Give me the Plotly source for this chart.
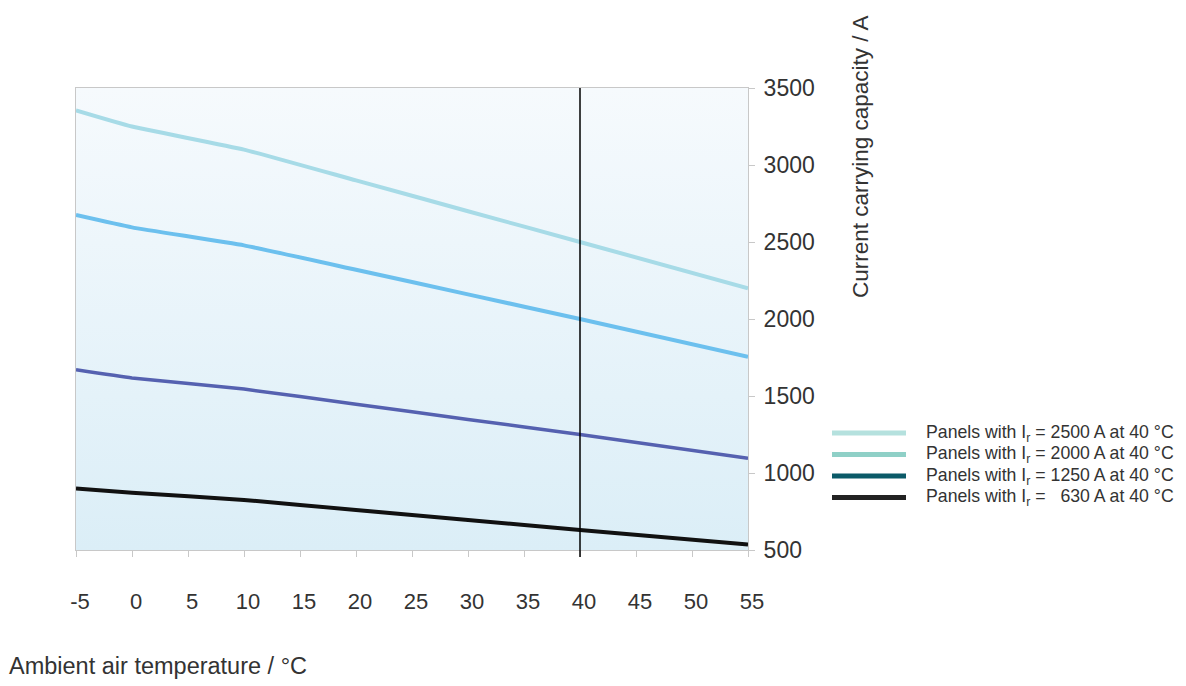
import plotly.graph_objects as go

# ambient temperature (deg C) and current carrying capacity (A)
temps = [-5, 0, 10, 20, 30, 40, 55]
cap_2500 = [3355, 3250, 3100, 2900, 2700, 2500, 2200]
cap_2000 = [2675, 2595, 2478, 2320, 2160, 2000, 1755]
cap_1250 = [1670, 1617, 1545, 1447, 1348, 1250, 1095]
cap_630 = [900, 872, 825, 760, 695, 630, 535]

series = [cap_2500, cap_2000, cap_1250, cap_630]
line_colors = ["#a7dbe7", "#6cc0ee", "#5561b0", "#111111"]
line_widths = [4, 4, 3.5, 4]

legend_labels = [
    "Panels with I<sub>r</sub> = 2500 A at 40 °C",
    "Panels with I<sub>r</sub> = 2000 A at 40 °C",
    "Panels with I<sub>r</sub> = 1250 A at 40 °C",
    "Panels with I<sub>r</sub> = \u00a0\u00a0630 A at 40 °C",
]
legend_colors = ["#b5e1de", "#8fd0c7", "#0b5a68", "#222222"]

x_ticks = list(range(-5, 60, 5))
x_ticktext = ["-5"] + [str(t) for t in x_ticks[1:]]
y_ticks = list(range(500, 4000, 500))
x_range = [-5, 55]
y_range = [500, 3500]
ref_temp = 40

FONT = "Liberation Sans"
TXT = "#333333"

fig = go.Figure()

# gradient background of the plot area
fig.add_trace(go.Scatter(
    x=[x_range[0], x_range[1], x_range[1], x_range[0], x_range[0]],
    y=[y_range[0], y_range[0], y_range[1], y_range[1], y_range[0]],
    mode="lines", line=dict(width=0), fill="toself",
    fillgradient=dict(type="vertical",
                      colorscale=[[0, "#dbeef7"], [1, "#f6fafd"]]),
    hoverinfo="skip", showlegend=False))

for vals, c, w in zip(series, line_colors, line_widths):
    fig.add_trace(go.Scatter(x=temps, y=vals, mode="lines",
                             line=dict(color=c, width=w, shape="spline", smoothing=0.4),
                             showlegend=False))

fig.add_shape(type="line", x0=ref_temp, x1=ref_temp, y0=-0.015, y1=1,
              xref="x", yref="paper", line=dict(color="black", width=1.5))

# page has an 8px body margin, so positions below are shifted by 8
OFF = 8
L, W = 76 - OFF, 672
T, H = 88 - OFF, 462
def px(x):
    return (x - OFF - L) / W
def py(y):
    return (T + H - (y - OFF)) / H

for i, (lab, c) in enumerate(zip(legend_labels, legend_colors)):
    yy = 433 + i * 21.5
    fig.add_shape(type="line", xref="paper", yref="paper",
                  x0=px(832), x1=px(906), y0=py(yy), y1=py(yy),
                  line=dict(color=c, width=5))
    fig.add_annotation(text=lab, xref="paper", yref="paper", x=px(924), y=py(yy),
                       xanchor="left", yanchor="middle", showarrow=False,
                       font=dict(size=17.7, color=TXT, family=FONT))

fig.add_annotation(text="Current carrying capacity / A", xref="paper", yref="paper",
                   x=px(860), y=py(157), textangle=-90, showarrow=False,
                   xanchor="center", yanchor="middle",
                   font=dict(size=22.5, color=TXT, family=FONT))
fig.add_annotation(text="Ambient air temperature / °C", xref="paper", yref="paper",
                   x=px(7), y=py(666), xanchor="left", yanchor="middle", showarrow=False,
                   font=dict(size=23.5, color=TXT, family=FONT))

fig.update_layout(
    width=1186, height=686,
    margin=dict(l=L, r=1186 - L - W, t=T, b=686 - T - H),
    paper_bgcolor="white", plot_bgcolor="white",
    font=dict(family=FONT, color=TXT),
    xaxis=dict(range=x_range, tickvals=x_ticks, ticktext=x_ticktext,
               ticks="outside", ticklen=6,
               tickcolor="#c8c8c8", showgrid=False, zeroline=False,
               showline=True, linecolor="#c8c8c8", mirror=True,
               tickfont=dict(size=22), ticklabelstandoff=26, ticklabelshift=4),
    yaxis=dict(range=y_range, tickvals=y_ticks, side="right", ticks="outside",
               ticklen=6, tickcolor="#c8c8c8", showgrid=True, gridcolor="#dde3e6",
               zeroline=False, showline=True, linecolor="#c8c8c8", mirror=True,
               tickfont=dict(size=23), ticklabelstandoff=4),
)

fig.write_html("out.html")
